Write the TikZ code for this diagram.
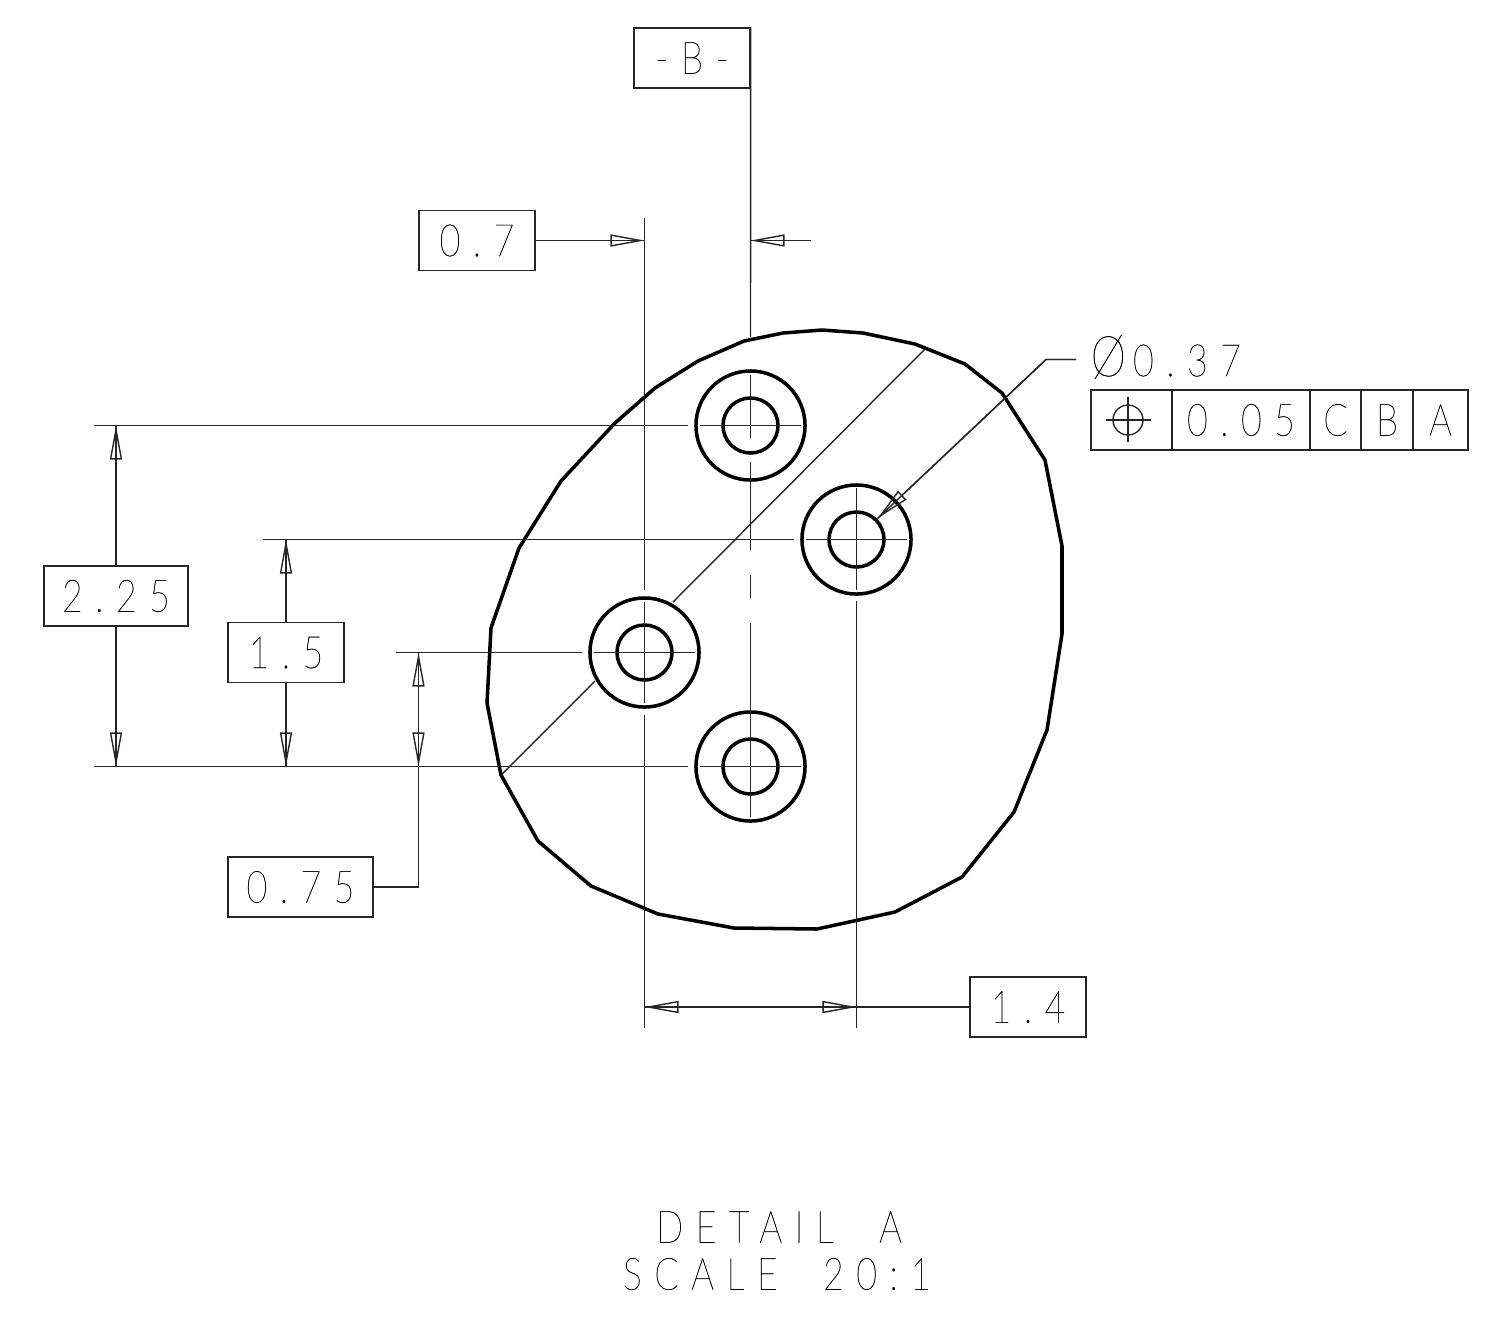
\documentclass[tikz,border=0pt]{standalone}
\usepackage{fontspec}
\setmainfont[FakeStretch=0.8,LetterSpace=28,FakeBold=0.5]{Lato Thin}
\usetikzlibrary{arrows.meta}
\tikzset{
    thinline/.style={line width=0.4pt, black!85},
    thickline/.style={line width=1pt, black},
    dimtext/.style={font=\fontsize{12.7}{15}\selectfont, inner sep=0pt},
    dimbox/.style={draw, thinline, text=black, dimtext, minimum width=1.16cm, minimum height=0.6cm},
    fcfbox/.style={dimbox, minimum width=#1},
    hole/.style={circle, draw, thickline, inner sep=0pt, minimum size=#1},
    tip/.style={-{Triangle[open, length=0.34cm, width=0.12cm]}, postaction={draw, arrows=-}},
    tips/.style={{Triangle[open, length=0.34cm, width=0.12cm]}-{Triangle[open, length=0.34cm, width=0.12cm]}, postaction={draw, arrows=-}}
}
\begin{document}
\begin{tikzpicture}[x=0.01cm, y=-0.01cm]
\useasboundingbox (0,0) rectangle (1496,1326);
% outline
\draw[thickline, line join=round] (822,330) -- (863,333) -- (915,344) -- (965,364) -- (1002,393) -- (1045,460)
    -- (1062,546) -- (1062,634) -- (1047,730) -- (1014,812) -- (962,877) -- (895,912) -- (817,929)
    -- (734,928) -- (658,914) -- (591,886) -- (538,841) -- (501,775) -- (487,703) -- (491,628)
    -- (519,548) -- (561,481) -- (615,423) -- (655,388) -- (698,361) -- (744,341) -- (783,333) -- cycle;
% holes
\node[hole=1.09cm] (h1) at (750.5,425.5) {};
    \node[hole=0.55cm] (i1) at (750.5,425.5) {};
\node[hole=1.09cm] (h2) at (856.5,539.5) {};
    \node[hole=0.55cm] (i2) at (856.5,539.5) {};
\node[hole=1.09cm] (h3) at (644.5,652.5) {};
    \node[hole=0.55cm] (i3) at (644.5,652.5) {};
\node[hole=1.09cm] (h4) at (750.5,766.5) {};
    \node[hole=0.55cm] (i4) at (750.5,766.5) {};
% boxes
\node[dimbox] (datum) at (692,58) {-B-};
\node[dimbox] (d07) at (477,240.5) {0.7};
\node[dimbox, minimum width=1.44cm] (d225) at (116,596) {2.25};
\node[dimbox] (d15) at (286,652.5) {1.5};
\node[dimbox, minimum width=1.45cm] (d075) at (300.5,887) {0.75};
\node[dimbox] (d14) at (1028,1007) {1.4};
% feature control frame
\node[fcfbox=0.81cm] (fcf1) at (1131.5,420) {};
\node[fcfbox=1.38cm] (fcf2) at (1241,420) {0.05};
\node[fcfbox=0.51cm] (fcf3) at (1335.5,420) {C};
\node[fcfbox=0.52cm] (fcf4) at (1387,420) {B};
\node[fcfbox=0.55cm] (fcf5) at (1440.5,420) {A};
\node[dimtext, anchor=west] (dia) at (1090,357) {\fontsize{16}{16}\selectfont Ø\fontsize{12.7}{15}\selectfont\hspace{2pt}0.37};
% title
\node[dimtext] (title1) at (779,1227) {DETAIL~~A};
\node[dimtext] (title2) at (777,1274) {SCALE~~20:1};
% free ends
\coordinate (dtop) at (750.5,337);
\coordinate (top07) at (644.5,240.5);
\coordinate (topb) at (750.5,240.5);
\coordinate (topr) at (811,240.5);
\coordinate (a225) at (116,425.5);
\coordinate (b225) at (116,766.5);
\coordinate (a15) at (286,539.5);
\coordinate (b15) at (286,766.5);
\coordinate (a075) at (418.5,652.5);
\coordinate (b075) at (418.5,766.5);
\coordinate (l14) at (644.5,1007);
\coordinate (r14) at (856.5,1007);
\coordinate (start) at (1076,359.5);
\coordinate (knee) at (1046,359.5);
\coordinate (holetip) at (877.5,518.5);
% arrows
\draw[thinline, tip] (d07.east) -- (top07);
\draw[thinline, tip] (topr) -- (topb);
\draw[thinline, tip] (d225.north) -- (a225);
\draw[thinline, tip] (d225.south) -- (b225);
\draw[thinline, tip] (d15.north) -- (a15);
\draw[thinline, tip] (d15.south) -- (b15);
\draw[thinline, tips] (b075) -- (a075);
\draw[thinline] (d075.east) -| (b075);
\draw[thinline] (d14.west) -- (r14);
\draw[thinline, tips] (l14) -- (r14);
\draw[thinline, tip] (start) -- (knee) -- (holetip);
% extension and centre lines
\draw[thinline] (datum.north east) -- (dtop);
\draw[thinline] (750.5,375) -- (750.5,438) (750.5,462) -- (750.5,550) (750.5,575) -- (750.5,598) (750.5,623) -- (750.5,817);
\draw[thinline] (644.5,218) -- (644.5,590) (644.5,602) -- (644.5,703) (644.5,715) -- (644.5,1028);
\draw[thinline] (856.5,488) -- (856.5,590) (856.5,601) -- (856.5,1028);
\draw[thinline] (94,425.5) -- (688,425.5) (700,425.5) -- (801,425.5);
\draw[thinline] (263,539.5) -- (794,539.5) (806,539.5) -- (907,539.5);
\draw[thinline] (396,652.5) -- (582,652.5) (594,652.5) -- (695,652.5);
\draw[thinline] (94,766.5) -- (688,766.5) (700,766.5) -- (801,766.5);
\draw[thinline] (925,349) -- (673,602) (595,681) -- (501,775);
% position symbol
\draw[thinline] (1128,420) circle (15);
\draw[thinline] (1106,420) -- (1151,420) (1128,397) -- (1128,442);
\end{tikzpicture}
\end{document}
